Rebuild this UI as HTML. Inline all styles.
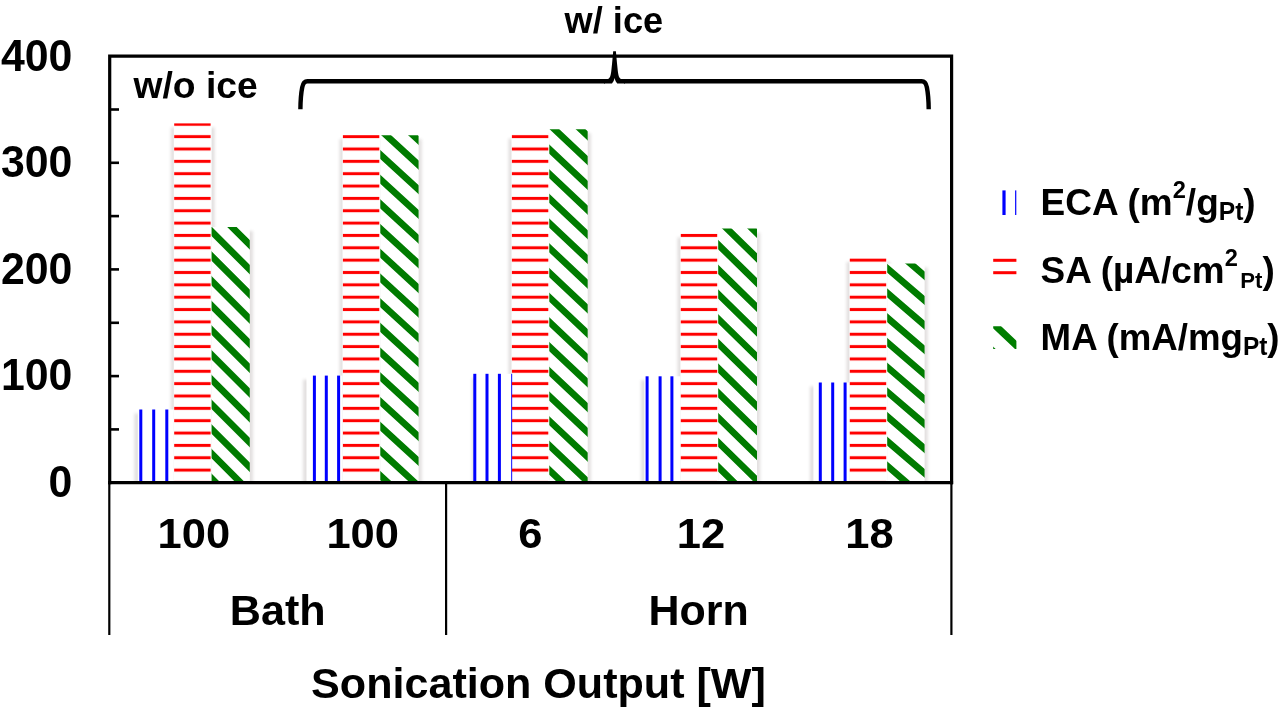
<!DOCTYPE html>
<html><head><meta charset="utf-8"><title>Sonication Output chart</title>
<style>html,body{margin:0;padding:0;background:#fff}body{width:1280px;height:709px;overflow:hidden}svg{display:block}text{font-family:"Liberation Sans",sans-serif;font-weight:bold;fill:#000}</style></head><body>
<svg width="1280" height="709" viewBox="0 0 1280 709">
<defs>
<filter id="sh" x="-30%" y="-5%" width="160%" height="110%"><feGaussianBlur stdDeviation="1.8"/></filter>
<pattern id="pr" patternUnits="userSpaceOnUse" x="0" y="-5.38" width="50" height="12.35"><rect x="0" y="4.67" width="50" height="3" fill="#ff0000"/></pattern>
<clipPath id="cg0"><rect x="211.6" y="227.0" width="38.2" height="255.7"/></clipPath>
<clipPath id="cg1"><rect x="380.3" y="135.2" width="38.3" height="347.5"/></clipPath>
<clipPath id="cg2"><rect x="549.3" y="129.2" width="38.4" height="353.5"/></clipPath>
<clipPath id="cg3"><rect x="718.2" y="228.6" width="38.8" height="254.1"/></clipPath>
<clipPath id="cg4"><rect x="887.2" y="263.6" width="37.4" height="219.1"/></clipPath>
<clipPath id="cs"><rect x="0" y="0" width="1280" height="481.7"/></clipPath>
</defs>
<rect width="1280" height="709" fill="#fff"/>
<g clip-path="url(#cs)"><g filter="url(#sh)" opacity="0.16"><rect x="134.3" y="413.5" width="40.0" height="73.2" fill="#544"/><rect x="170.8" y="127.4" width="43.8" height="359.3" fill="#544"/><rect x="211.6" y="231.0" width="41.4" height="255.7" fill="#544"/></g></g>
<rect x="137.8" y="409.5" width="36.0" height="73.2" fill="#fff"/>
<rect x="173.8" y="123.4" width="37.8" height="359.3" fill="#fff"/>
<rect x="211.6" y="227.0" width="38.2" height="255.7" fill="#fff"/>
<rect x="139.3" y="409.5" width="3" height="73.2" fill="#0000ff"/>
<rect x="152.2" y="409.5" width="3" height="73.2" fill="#0000ff"/>
<rect x="165.3" y="409.5" width="3" height="73.2" fill="#0000ff"/>
<rect x="174.2" y="123.4" width="36.4" height="359.3" fill="url(#pr)"/>
<path clip-path="url(#cg0)" d="M205.6 176.0L255.8 226.2M205.6 200.7L255.8 250.9M205.6 225.4L255.8 275.6M205.6 250.1L255.8 300.3M205.6 274.8L255.8 325.0M205.6 299.5L255.8 349.7M205.6 324.2L255.8 374.4M205.6 348.9L255.8 399.1M205.6 373.6L255.8 423.8M205.6 398.3L255.8 448.5M205.6 423.0L255.8 473.2M205.6 447.7L255.8 497.9M205.6 472.4L255.8 522.6M205.6 497.1L255.8 547.3" stroke="#007b00" stroke-width="6.7" fill="none"/>
<g clip-path="url(#cs)"><g filter="url(#sh)" opacity="0.16"><rect x="303.0" y="379.6" width="40.0" height="107.1" fill="#544"/><rect x="339.5" y="139.0" width="43.8" height="347.7" fill="#544"/><rect x="380.3" y="139.2" width="41.5" height="347.5" fill="#544"/></g></g>
<rect x="306.5" y="375.6" width="36.0" height="107.1" fill="#fff"/>
<rect x="342.5" y="135.0" width="37.8" height="347.7" fill="#fff"/>
<rect x="380.3" y="135.2" width="38.3" height="347.5" fill="#fff"/>
<rect x="312.9" y="375.6" width="3" height="107.1" fill="#0000ff"/>
<rect x="324.8" y="375.6" width="3" height="107.1" fill="#0000ff"/>
<rect x="337.1" y="375.6" width="3" height="107.1" fill="#0000ff"/>
<rect x="342.9" y="135.0" width="36.4" height="347.7" fill="url(#pr)"/>
<path clip-path="url(#cg1)" d="M374.3 99.6L424.6 145.8M374.3 124.3L424.6 170.5M374.3 149.0L424.6 195.2M374.3 173.7L424.6 219.9M374.3 198.4L424.6 244.6M374.3 223.1L424.6 269.3M374.3 247.8L424.6 294.0M374.3 272.5L424.6 318.7M374.3 297.2L424.6 343.4M374.3 321.9L424.6 368.1M374.3 346.6L424.6 392.8M374.3 371.3L424.6 417.5M374.3 396.0L424.6 442.2M374.3 420.7L424.6 466.9M374.3 445.4L424.6 491.6M374.3 470.1L424.6 516.3M374.3 494.8L424.6 541.0" stroke="#007b00" stroke-width="6.7" fill="none"/>
<g clip-path="url(#cs)"><g filter="url(#sh)" opacity="0.16"><rect x="472.0" y="377.8" width="40.0" height="108.9" fill="#544"/><rect x="508.5" y="138.5" width="43.8" height="348.2" fill="#544"/><rect x="549.3" y="133.2" width="41.6" height="353.5" fill="#544"/></g></g>
<rect x="475.5" y="373.8" width="36.0" height="108.9" fill="#fff"/>
<rect x="511.5" y="134.5" width="37.8" height="348.2" fill="#fff"/>
<rect x="549.3" y="129.2" width="38.4" height="353.5" fill="#fff"/>
<rect x="473.3" y="373.8" width="3" height="108.9" fill="#0000ff"/>
<rect x="485.5" y="373.8" width="3" height="108.9" fill="#0000ff"/>
<rect x="497.9" y="373.8" width="3" height="108.9" fill="#0000ff"/>
<rect x="511.0" y="373.8" width="1.2" height="108.9" fill="#0000ff" opacity="0.8"/>
<rect x="511.9" y="134.5" width="36.4" height="348.2" fill="url(#pr)"/>
<path clip-path="url(#cg2)" d="M543.3 94.0L593.7 141.6M543.3 118.7L593.7 166.3M543.3 143.4L593.7 191.0M543.3 168.1L593.7 215.7M543.3 192.8L593.7 240.4M543.3 217.5L593.7 265.1M543.3 242.2L593.7 289.8M543.3 266.9L593.7 314.5M543.3 291.6L593.7 339.2M543.3 316.3L593.7 363.9M543.3 341.0L593.7 388.6M543.3 365.7L593.7 413.3M543.3 390.4L593.7 438.0M543.3 415.1L593.7 462.7M543.3 439.8L593.7 487.4M543.3 464.5L593.7 512.1M543.3 489.2L593.7 536.8" stroke="#007b00" stroke-width="6.7" fill="none"/>
<g clip-path="url(#cs)"><g filter="url(#sh)" opacity="0.16"><rect x="640.9" y="380.3" width="40.0" height="106.4" fill="#544"/><rect x="677.4" y="237.5" width="43.8" height="249.2" fill="#544"/><rect x="718.2" y="232.6" width="42.0" height="254.1" fill="#544"/></g></g>
<rect x="644.4" y="376.3" width="36.0" height="106.4" fill="#fff"/>
<rect x="680.4" y="233.5" width="37.8" height="249.2" fill="#fff"/>
<rect x="718.2" y="228.6" width="38.8" height="254.1" fill="#fff"/>
<rect x="645.6" y="376.3" width="3" height="106.4" fill="#0000ff"/>
<rect x="658.6" y="376.3" width="3" height="106.4" fill="#0000ff"/>
<rect x="670.4" y="376.3" width="3" height="106.4" fill="#0000ff"/>
<rect x="680.8" y="233.5" width="36.4" height="249.2" fill="url(#pr)"/>
<path clip-path="url(#cg3)" d="M712.2 189.4L763.0 239.2M712.2 214.1L763.0 263.9M712.2 238.8L763.0 288.6M712.2 263.5L763.0 313.3M712.2 288.2L763.0 338.0M712.2 312.9L763.0 362.7M712.2 337.6L763.0 387.4M712.2 362.3L763.0 412.1M712.2 387.0L763.0 436.8M712.2 411.7L763.0 461.5M712.2 436.4L763.0 486.2M712.2 461.1L763.0 510.9M712.2 485.8L763.0 535.6" stroke="#007b00" stroke-width="6.7" fill="none"/>
<g clip-path="url(#cs)"><g filter="url(#sh)" opacity="0.16"><rect x="809.9" y="386.5" width="40.0" height="100.2" fill="#544"/><rect x="846.4" y="262.0" width="43.8" height="224.7" fill="#544"/><rect x="887.2" y="267.6" width="40.6" height="219.1" fill="#544"/></g></g>
<rect x="813.4" y="382.5" width="36.0" height="100.2" fill="#fff"/>
<rect x="849.4" y="258.0" width="37.8" height="224.7" fill="#fff"/>
<rect x="887.2" y="263.6" width="37.4" height="219.1" fill="#fff"/>
<rect x="818.8" y="382.5" width="3" height="100.2" fill="#0000ff"/>
<rect x="831.2" y="382.5" width="3" height="100.2" fill="#0000ff"/>
<rect x="843.6" y="382.5" width="3" height="100.2" fill="#0000ff"/>
<rect x="849.8" y="258.0" width="36.4" height="224.7" fill="url(#pr)"/>
<path clip-path="url(#cg4)" d="M881.2 213.7L930.6 256.2M881.2 238.4L930.6 280.9M881.2 263.1L930.6 305.6M881.2 287.8L930.6 330.3M881.2 312.5L930.6 355.0M881.2 337.2L930.6 379.7M881.2 361.9L930.6 404.4M881.2 386.6L930.6 429.1M881.2 411.3L930.6 453.8M881.2 436.0L930.6 478.5M881.2 460.7L930.6 503.2M881.2 485.4L930.6 527.9" stroke="#007b00" stroke-width="6.7" fill="none"/>
<path d="M109.7 484.2V56.2H951.6V484.2" fill="none" stroke="#000" stroke-width="3.2"/>
<path d="M108.2 482.7H953.1" fill="none" stroke="#000" stroke-width="3.2"/>
<path d="M109.7 429.4H119.0" stroke="#000" stroke-width="2.6"/>
<path d="M109.7 376.1H119.0" stroke="#000" stroke-width="2.6"/>
<path d="M109.7 322.8H119.0" stroke="#000" stroke-width="2.6"/>
<path d="M109.7 269.4H119.0" stroke="#000" stroke-width="2.6"/>
<path d="M109.7 216.1H119.0" stroke="#000" stroke-width="2.6"/>
<path d="M109.7 162.8H119.0" stroke="#000" stroke-width="2.6"/>
<path d="M109.7 109.5H119.0" stroke="#000" stroke-width="2.6"/>
<path d="M109.3 482.7V635" stroke="#000" stroke-width="2.2"/>
<path d="M446.1 482.7V635" stroke="#000" stroke-width="2.2"/>
<path d="M951.4 482.7V635" stroke="#000" stroke-width="2.2"/>
<path d="M300.4 109.2C300.5 100 301.1 93 302.2 87.5C303 83.2 304.2 81.3 307.4 81.3H605M624 81.3H921.7C924.9 81.3 926.1 83.2 926.9 87.5C928 93 928.6 100 928.7 109.2" fill="none" stroke="#000" stroke-width="4.4"/>
<path d="M604 79.1H607C609.5 79.1 610.6 77 611.3 71L612.1 63.3L613.2 51.2H615.9L617 63.3L617.8 71C618.5 77 619.6 79.1 622.1 79.1H625V83.5H617.2C616 82 615.2 80.5 614.6 78C614 80.5 613.2 82 612 83.5H604Z" fill="#000"/>
<text transform="translate(72.4 497.0) scale(0.982 1)" font-size="43.6" text-anchor="end">0</text>
<text transform="translate(72.4 390.4) scale(0.982 1)" font-size="43.6" text-anchor="end">100</text>
<text transform="translate(72.4 283.8) scale(0.982 1)" font-size="43.6" text-anchor="end">200</text>
<text transform="translate(72.4 177.1) scale(0.982 1)" font-size="43.6" text-anchor="end">300</text>
<text transform="translate(72.4 70.5) scale(0.982 1)" font-size="43.6" text-anchor="end">400</text>
<text transform="translate(133.5 98.1) scale(1.007 1)" font-size="37">w/o ice</text>
<text transform="translate(564.6 33.4) scale(1.0 1)" font-size="36.2">w/ ice</text>
<text transform="translate(193.8 548.0) scale(1.012 1)" font-size="43.0" text-anchor="middle">100</text>
<text transform="translate(362.7 548.0) scale(1.012 1)" font-size="43.0" text-anchor="middle">100</text>
<text transform="translate(530.3 548.0) scale(1.012 1)" font-size="43.0" text-anchor="middle">6</text>
<text transform="translate(701 548.0) scale(1.012 1)" font-size="43.0" text-anchor="middle">12</text>
<text transform="translate(869.4 548.0) scale(1.012 1)" font-size="43.0" text-anchor="middle">18</text>
<text transform="translate(277.7 624.8) scale(0.994 1)" font-size="43.4" text-anchor="middle">Bath</text>
<text transform="translate(698.6 624.9) scale(0.99 1)" font-size="43.4" text-anchor="middle">Horn</text>
<text transform="translate(538.5 698.2) scale(0.998 1)" font-size="43.2" text-anchor="middle">Sonication Output [W]</text>
<rect x="1002.4" y="190.4" width="3.2" height="24.6" fill="#0000ff"/><rect x="1015.1" y="190.4" width="1.2" height="24.6" fill="#0000ff"/>
<rect x="993.2" y="258.8" width="23.2" height="3" fill="#ff0000"/><rect x="993.2" y="271.2" width="23.2" height="3" fill="#ff0000"/>
<clipPath id="clg"><rect x="993.2" y="326.3" width="23.2" height="22.8"/></clipPath><path clip-path="url(#clg)" d="M987.4 318L1024.3 353M987.4 346L1024.3 381" stroke="#007d00" stroke-width="7.0" fill="none"/>
<text transform="translate(1040.6 214.5) scale(0.986 1)" font-size="37.5">ECA (m<tspan font-size="24" dy="-16.4">2</tspan><tspan dy="16.4">/g</tspan><tspan font-size="25" dy="5.5">Pt</tspan><tspan dy="-5.5">)</tspan></text>
<text transform="translate(1040.6 283.3) scale(0.985 1)" font-size="37.5">SA (µA/cm<tspan font-size="24" dy="-17.7">2</tspan><tspan font-size="22.5" dy="21.9" dx="2.5">Pt</tspan><tspan dy="-4.2">)</tspan></text>
<text transform="translate(1040.6 349.6) scale(0.978 1)" font-size="37.5">MA (mA/mg<tspan font-size="25" dy="5.5">Pt</tspan><tspan dy="-5.5">)</tspan></text>
</svg></body></html>
